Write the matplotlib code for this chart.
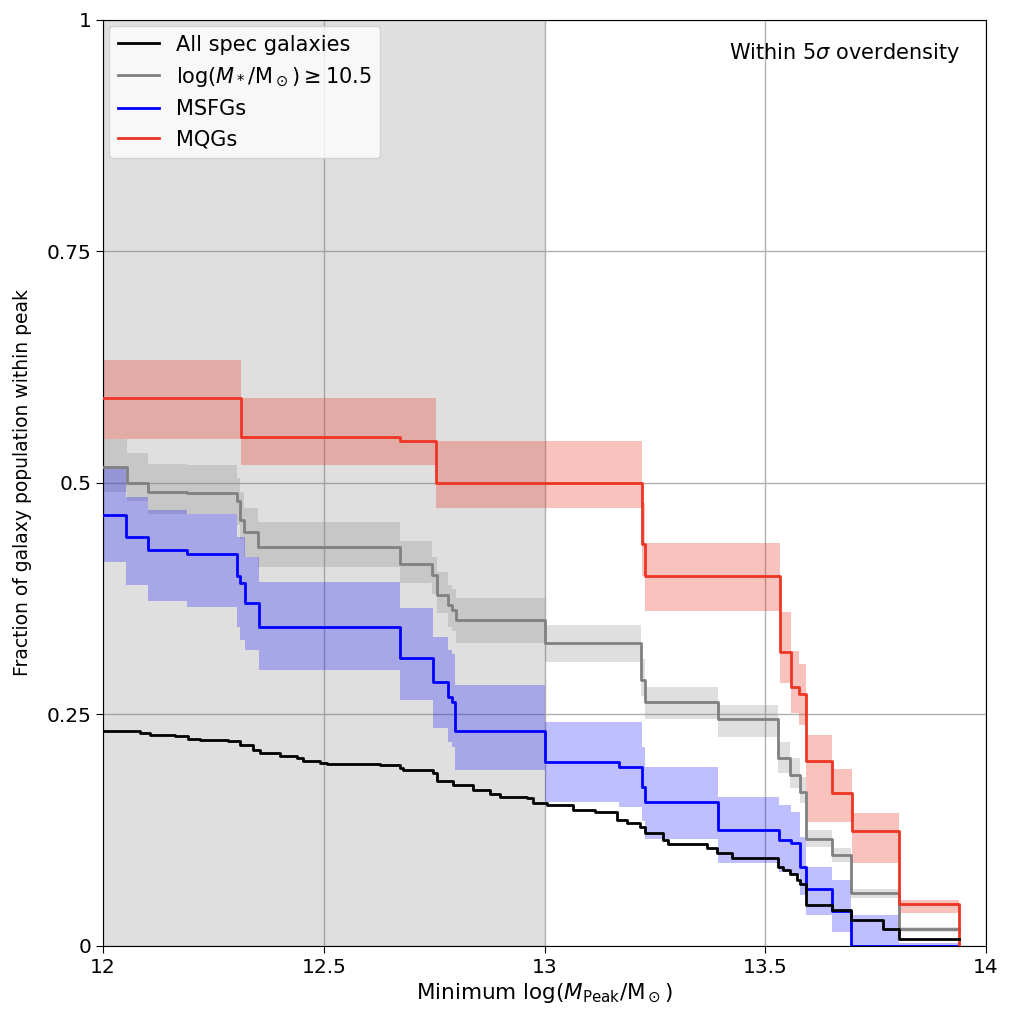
import matplotlib
matplotlib.use("Agg")
import matplotlib.pyplot as plt
import numpy as np

# --- data (step edges, value, lower, upper) ---

# all spectroscopic galaxies (no band)
all_x = [12.000, 12.084, 12.106, 12.163, 12.193, 12.220, 12.283, 12.310, 12.340,
         12.356, 12.401, 12.439, 12.453, 12.491, 12.507, 12.627, 12.673, 12.680,
         12.747, 12.757, 12.793, 12.838, 12.877, 12.899, 12.960, 12.974, 13.006,
         13.065, 13.114, 13.164, 13.187, 13.216, 13.228, 13.268, 13.280, 13.368,
         13.391, 13.425, 13.529, 13.540, 13.556, 13.572, 13.578, 13.592, 13.651,
         13.694, 13.767, 13.803, 13.939]
all_y = [0.232, 0.230, 0.228, 0.227, 0.224, 0.222, 0.221, 0.217, 0.212,
         0.208, 0.205, 0.203, 0.200, 0.198, 0.196, 0.195, 0.192, 0.190,
         0.187, 0.178, 0.174, 0.168, 0.164, 0.161, 0.160, 0.154, 0.152,
         0.147, 0.145, 0.136, 0.133, 0.129, 0.122, 0.114, 0.110, 0.106,
         0.100, 0.095, 0.085, 0.082, 0.078, 0.071, 0.067, 0.044, 0.039,
         0.028, 0.018, 0.008, 0.008]

# log(M*/Msun) >= 10.5
mass_x = [12.000, 12.054, 12.102, 12.190, 12.303, 12.310, 12.319, 12.351, 12.673,
          12.745, 12.757, 12.781, 12.790, 12.800, 13.001, 13.219, 13.228, 13.393,
          13.529, 13.556, 13.578, 13.592, 13.651, 13.694, 13.803, 13.939]
mass_y = [0.517, 0.500, 0.490, 0.489, 0.480, 0.460, 0.447, 0.431, 0.413,
          0.401, 0.379, 0.368, 0.363, 0.352, 0.327, 0.287, 0.263, 0.245,
          0.203, 0.185, 0.166, 0.115, 0.098, 0.057, 0.018, 0.018]
mass_lo = [0.490, 0.480, 0.467, 0.467, 0.455, 0.440, 0.420, 0.409, 0.392,
           0.380, 0.360, 0.345, 0.340, 0.327, 0.307, 0.270, 0.245, 0.226,
           0.187, 0.171, 0.154, 0.107, 0.091, 0.052, 0.015, 0.015]
mass_hi = [0.547, 0.532, 0.521, 0.519, 0.505, 0.490, 0.473, 0.458, 0.437,
           0.420, 0.404, 0.390, 0.385, 0.376, 0.347, 0.310, 0.280, 0.260,
           0.220, 0.203, 0.183, 0.125, 0.106, 0.062, 0.021, 0.021]

# MSFGs
sf_x = [12.000, 12.052, 12.102, 12.190, 12.303, 12.310, 12.321, 12.353, 12.673,
        12.747, 12.781, 12.790, 12.797, 13.001, 13.169, 13.221, 13.228, 13.393,
        13.531, 13.558, 13.578, 13.592, 13.651, 13.694, 13.803, 13.939]
sf_y = [0.465, 0.442, 0.428, 0.423, 0.399, 0.392, 0.370, 0.345, 0.311,
        0.285, 0.269, 0.264, 0.232, 0.199, 0.193, 0.172, 0.156, 0.125,
        0.114, 0.111, 0.085, 0.062, 0.038, 0.0, 0.0, 0.0]
sf_lo = [0.415, 0.390, 0.372, 0.366, 0.345, 0.330, 0.320, 0.298, 0.266,
         0.235, 0.220, 0.215, 0.190, 0.155, 0.150, 0.135, 0.115, 0.090,
         0.080, 0.077, 0.055, 0.033, 0.015, 0.0, 0.0, 0.0]
sf_hi = [0.517, 0.485, 0.471, 0.467, 0.442, 0.442, 0.420, 0.393, 0.365,
         0.334, 0.320, 0.315, 0.282, 0.242, 0.242, 0.215, 0.193, 0.161,
         0.152, 0.145, 0.118, 0.085, 0.071, 0.033, 0.003, 0.003]

# MQGs
q_x = [12.000, 12.312, 12.673, 12.754, 13.221, 13.228, 13.533, 13.558, 13.576,
       13.592, 13.651, 13.697, 13.803, 13.939]
q_y = [0.592, 0.550, 0.545, 0.500, 0.434, 0.400, 0.318, 0.280, 0.272,
       0.200, 0.165, 0.124, 0.045, 0.0]
q_lo = [0.548, 0.519, 0.519, 0.473, 0.400, 0.362, 0.284, 0.252, 0.239,
        0.134, 0.134, 0.090, 0.036, 0.036]
q_hi = [0.633, 0.592, 0.592, 0.545, 0.478, 0.435, 0.361, 0.319, 0.305,
        0.228, 0.191, 0.144, 0.050, 0.050]

x_ticks = [12, 12.5, 13, 13.5, 14]
x_ticklabels = ["12", "12.5", "13", "13.5", "14"]
y_ticks = [0, 0.25, 0.5, 0.75, 1]
y_ticklabels = ["0", "0.25", "0.5", "0.75", "1"]

red = "#ee3524"

fig = plt.figure(figsize=(10.13, 10.24), dpi=100)
ax = fig.add_axes([0.1017, 0.0762, 0.8717, 0.9043])

# shaded region below 13
ax.axvspan(12, 13, color="gray", alpha=0.25, lw=0, zorder=1)

# uncertainty bands
ax.fill_between(mass_x, mass_lo, mass_hi, step="post", color="gray", alpha=0.25, lw=0, zorder=2)
ax.fill_between(sf_x, sf_lo, sf_hi, step="post", color="blue", alpha=0.25, lw=0, zorder=2)
ax.fill_between(q_x, q_lo, q_hi, step="post", color=red, alpha=0.3, lw=0, zorder=2)

# curves
ax.step(all_x, all_y, where="post", color="black", lw=2, label="All spec galaxies", zorder=5)
ax.step(mass_x, mass_y, where="post", color="gray", lw=2,
        label=r"$\log(M_*/\mathrm{M}_\odot)\geq10.5$", zorder=4)
ax.step(sf_x, sf_y, where="post", color="blue", lw=2, label="MSFGs", zorder=4)
ax.step(q_x, q_y, where="post", color=red, lw=2, label="MQGs", zorder=4)

ax.set_xlim(12, 14)
ax.set_ylim(0, 1)
ax.set_xticks(x_ticks)
ax.set_xticklabels(x_ticklabels)
ax.set_yticks(y_ticks)
ax.set_yticklabels(y_ticklabels)
ax.tick_params(labelsize=14.5, length=5)
ax.set_axisbelow(True)
ax.grid(True, color="#b0b0b0", lw=1)

ax.set_xlabel(r"Minimum $\log(M_{\rm Peak}/\mathrm{M}_\odot)$", fontsize=15.5, labelpad=3)
ax.set_ylabel("Fraction of galaxy population within peak", fontsize=13.5, labelpad=10)

ax.text(0.9706, 0.977, r"Within 5$\sigma$ overdensity", transform=ax.transAxes,
        ha="right", va="top", fontsize=15)
ax.legend(loc="upper left", fontsize=15, borderaxespad=0.3)

fig.savefig("out.png", dpi=100)
